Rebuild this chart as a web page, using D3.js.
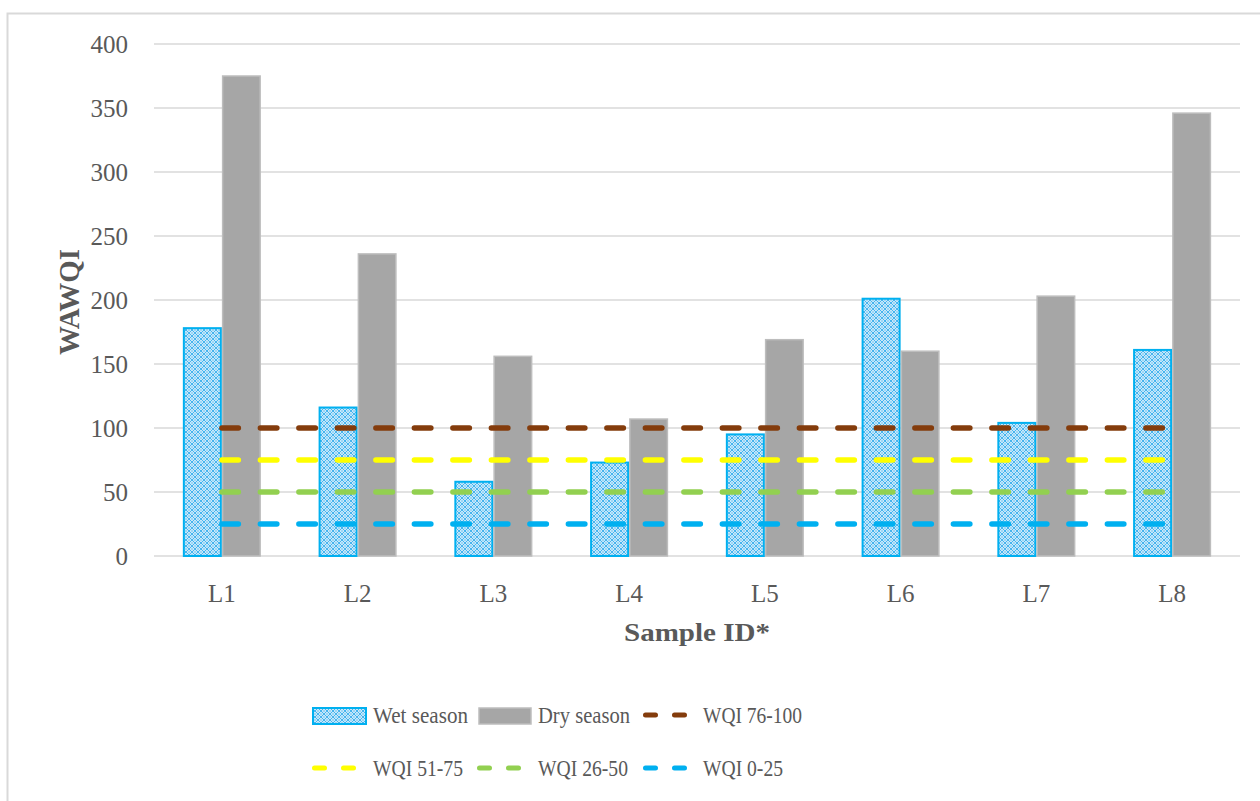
<!DOCTYPE html>
<html>
<head>
<meta charset="utf-8">
<script src="https://cdn.jsdelivr.net/npm/d3@7/dist/d3.min.js"></script>
<style>
  html, body { margin: 0; padding: 0; background: #fff; }
  svg { display: block; }
  text { font-family: "Liberation Serif", "DejaVu Serif", serif; fill: #595959; }
</style>
</head>
<body>
<svg id="chart" width="1260" height="801"></svg>
<script>
// ---- data ----
const categories = ["L1", "L2", "L3", "L4", "L5", "L6", "L7", "L8"];
const wetSeason = [178, 116, 58, 73, 95, 201, 104, 161];
const drySeason = [375, 236, 156, 107, 169, 160, 203, 346];
const yTicks = [0, 50, 100, 150, 200, 250, 300, 350, 400];
const wqiLevels = [100, 75, 50, 25];
const wqiNames = ["WQI 76-100", "WQI 51-75", "WQI 26-50", "WQI 0-25"];
const wqiColors = ["#843c0c", "#ffff00", "#92d050", "#00b0f0"];
const barNames = ["Wet season", "Dry season"];

const svg = d3.select("#chart");
const plot = { left: 154, right: 1240, top: 44, bottom: 556 };

// outer border
svg.append("rect").attr("x", 7.5).attr("y", 13.5).attr("width", 1262).attr("height", 800)
  .attr("fill", "none").attr("stroke", "#d9d9d9").attr("stroke-width", 2);

// pattern for wet season
const defs = svg.append("defs");
const pat = defs.append("pattern").attr("id", "wetPat").attr("patternUnits", "userSpaceOnUse")
  .attr("width", 6).attr("height", 6);
pat.append("rect").attr("width", 6).attr("height", 6).attr("fill", "#ffffff");
pat.append("path").attr("d", "M0,0 L6,6 M6,0 L0,6").attr("stroke", "#3cb0ee").attr("stroke-width", 1.1);
pat.append("path").attr("d", "M3,0 L3,1 M3,5 L3,6 M0,3 L1,3 M5,3 L6,3").attr("stroke", "#3cb0ee").attr("stroke-width", 1);

const x = d3.scaleBand().domain(categories).range([plot.left, plot.right])
  .paddingInner(0.425).paddingOuter(0.2125);
const xs = d3.scaleBand().domain([0, 1]).range([0, x.bandwidth()]);
const y = d3.scaleLinear().domain([0, 400]).range([plot.bottom, plot.top]);

// gridlines
svg.append("g").selectAll("line").data(yTicks).join("line")
  .attr("x1", plot.left).attr("x2", plot.right)
  .attr("y1", d => y(d)).attr("y2", d => y(d))
  .attr("stroke", "#d9d9d9").attr("stroke-width", 1.5);

// y axis labels
const yAxis = d3.axisLeft(y).tickValues(yTicks).tickSize(0).tickPadding(0);
const gy = svg.append("g").attr("transform", `translate(128,0)`).call(yAxis);
gy.select(".domain").remove();
gy.selectAll("text").attr("font-size", 25).style("font-family", '"Liberation Serif", serif').attr("fill", "#595959").attr("dy", "0.34em");

// x axis labels
const xAxis = d3.axisBottom(x).tickSize(0).tickPadding(0);
const gx = svg.append("g").attr("transform", `translate(0,${plot.bottom})`).call(xAxis);
gx.select(".domain").remove();
gx.selectAll("text").attr("font-size", 25).style("font-family", '"Liberation Serif", serif').attr("fill", "#595959").attr("dy", null).attr("y", 46);

// bars
const gBars = svg.append("g");
gBars.selectAll("rect.wet").data(wetSeason).join("rect").attr("class", "wet")
  .attr("x", (d, i) => x(categories[i]) + xs(0) + 1)
  .attr("y", d => y(d))
  .attr("width", xs.bandwidth() - 2)
  .attr("height", d => y(0) - y(d))
  .attr("fill", "url(#wetPat)").attr("stroke", "#00b0f0").attr("stroke-width", 2);
gBars.selectAll("rect.dry").data(drySeason).join("rect").attr("class", "dry")
  .attr("x", (d, i) => x(categories[i]) + xs(1) + 0.75)
  .attr("y", d => y(d))
  .attr("width", xs.bandwidth() - 1.5)
  .attr("height", d => y(0) - y(d))
  .attr("fill", "#a6a6a6").attr("stroke", "#bdbdbd").attr("stroke-width", 1.5);

// WQI dashed lines
const line = d3.line().x(d => d[0]).y(d => d[1]);
wqiLevels.forEach((lv, k) => {
  const pts = categories.map(c => [x(c) + x.bandwidth() / 2, y(lv)]);
  svg.append("path").attr("d", line(pts)).attr("fill", "none")
    .attr("stroke", wqiColors[k]).attr("stroke-width", 5.5)
    .attr("stroke-linecap", "round").attr("stroke-dasharray", "16.5,22");
});

// axis titles
svg.append("text").attr("transform", `translate(79,${(plot.top + plot.bottom) / 2 + 2}) rotate(-90)`)
  .attr("text-anchor", "middle").attr("font-size", 30).attr("font-weight", "bold")
  .attr("textLength", 106).attr("lengthAdjust", "spacingAndGlyphs").text("WAWQI");
svg.append("text").attr("x", (plot.left + plot.right) / 2).attr("y", 641)
  .attr("text-anchor", "middle").attr("font-size", 26).attr("font-weight", "bold")
  .attr("textLength", 146).attr("lengthAdjust", "spacingAndGlyphs").text("Sample ID*");

// legend
const legend = svg.append("g");
function legText(xp, yp, t, len) {
  legend.append("text").attr("x", xp).attr("y", yp).attr("font-size", 23)
    .attr("textLength", len).attr("lengthAdjust", "spacingAndGlyphs").text(t);
}
// row 1
legend.append("rect").attr("x", 313).attr("y", 708).attr("width", 53).attr("height", 16)
  .attr("fill", "url(#wetPat)").attr("stroke", "#00b0f0").attr("stroke-width", 2);
legText(373, 723, barNames[0], 95);
legend.append("rect").attr("x", 479).attr("y", 708).attr("width", 52).attr("height", 16)
  .attr("fill", "#a6a6a6").attr("stroke", "#bdbdbd").attr("stroke-width", 1.5);
legText(538, 723, barNames[1], 92);

const legLines = [
  { x: 643, y: 715, k: 0, tx: 703, len: 99 },
  { x: 312, y: 768, k: 1, tx: 373, len: 90 },
  { x: 477, y: 768, k: 2, tx: 538, len: 90 },
  { x: 643, y: 768, k: 3, tx: 703, len: 80 }
];
legLines.forEach(o => {
  legend.append("line").attr("x1", o.x + 2.5).attr("x2", o.x + 41.5).attr("y1", o.y).attr("y2", o.y)
    .attr("stroke", wqiColors[o.k]).attr("stroke-width", 5).attr("stroke-linecap", "round")
    .attr("stroke-dasharray", "10,19");
  legText(o.tx, o.y + 8, wqiNames[o.k], o.len);
});
</script>
</body>
</html>
